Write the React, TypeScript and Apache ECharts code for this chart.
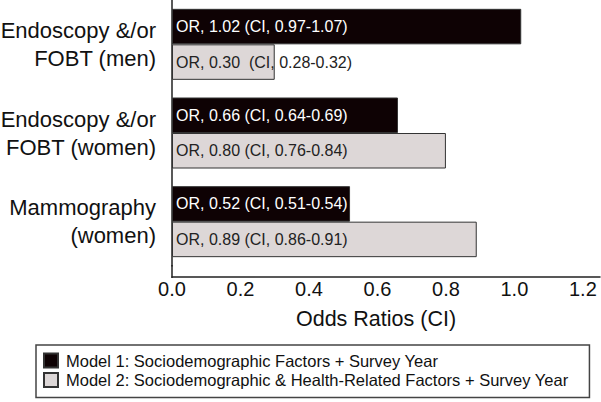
import React, { useEffect, useRef } from "react";
import * as echarts from "echarts";

const categories = ["Endoscopy &/or\nFOBT (men)", "Endoscopy &/or\nFOBT (women)", "Mammography\n(women)"];
const seriesNames = [
  "Model 1: Sociodemographic Factors + Survey Year",
  "Model 2: Sociodemographic & Health-Related Factors + Survey Year",
];
const model1Values = [1.02, 0.66, 0.52];
const model2Values = [0.3, 0.8, 0.89];
const model1Labels = ["OR, 1.02 (CI, 0.97-1.07)", "OR, 0.66 (CI, 0.64-0.69)", "OR, 0.52 (CI, 0.51-0.54)"];
const model2Labels = ["OR, 0.30  (CI, 0.28-0.32)", "OR, 0.80 (CI, 0.76-0.84)", "OR, 0.89 (CI, 0.86-0.91)"];
const xTicks = { min: 0, max: 1.25, interval: 0.2 };
const xTitle = "Odds Ratios (CI)";

const FONT = "'Liberation Sans', Arial, sans-serif";

export default function App() {
  const ref = useRef<HTMLDivElement>(null);
  useEffect(() => {
    if (!ref.current) return;
    const chart = echarts.init(ref.current, undefined, { renderer: "svg" });
    chart.setOption({
      animation: false,
      backgroundColor: "#ffffff",
      textStyle: { fontFamily: FONT },
      grid: { left: 172, right: 1, top: 0, bottom: 136, containLabel: false, outerBoundsMode: "none" },
      xAxis: {
        type: "value",
        min: xTicks.min,
        max: xTicks.max,
        interval: xTicks.interval,
        position: "bottom",
        offset: 11,
        axisLine: { show: true, lineStyle: { color: "#222", width: 1.5 } },
        axisTick: { show: false },
        splitLine: { show: false },
        axisLabel: {
          fontSize: 20,
          color: "#111",
          margin: 2,
          fontFamily: FONT,
          showMaxLabel: false,
          formatter: (v: number) => v.toFixed(1),
        },
        name: xTitle,
        nameLocation: "middle",
        nameGap: 31,
        nameTextStyle: { fontSize: 21.5, color: "#111", fontFamily: FONT, padding: [0, 20, 0, 0] },
      },
      yAxis: {
        type: "category",
        inverse: true,
        data: categories,
        axisLine: { show: true, lineStyle: { color: "#222", width: 1.5 } },
        axisTick: { show: false },
        axisLabel: { fontSize: 22, lineHeight: 28, color: "#111", margin: 16, fontFamily: FONT },
      },
      legend: {
        orient: "vertical",
        left: 36,
        top: 345,
        data: seriesNames,
        icon: "rect",
        itemWidth: 14,
        itemHeight: 14,
        itemGap: 2.5,
        padding: [7, 21, 9, 7],
        borderColor: "#444",
        borderWidth: 1.5,
        backgroundColor: "#fff",
        textStyle: { fontSize: 16.5, lineHeight: 17, color: "#111", fontFamily: FONT, padding: [0, 0, 0, 3] },
      },
      graphic: [
        {
          type: "line",
          shape: { x1: 172, y1: 265, x2: 172, y2: 278 },
          style: { stroke: "#222", lineWidth: 1.5 },
          silent: true,
        },
      ],
      series: [
        {
          name: seriesNames[0],
          type: "bar",
          data: model1Values,
          barWidth: 35.5,
          barGap: "0%",
          itemStyle: { color: "#0e0204", borderColor: "#333", borderWidth: 1 },
          label: {
            show: true,
            position: "insideLeft",
            distance: 4,
            fontSize: 16,
            color: "#fff",
            fontFamily: FONT,
            formatter: (p: any) => model1Labels[p.dataIndex],
          },
        },
        {
          name: seriesNames[1],
          type: "bar",
          data: model2Values,
          barWidth: 35.5,
          barGap: "0%",
          itemStyle: { color: "#ddd7d7", borderColor: "#333", borderWidth: 1 },
          label: {
            show: true,
            position: "insideLeft",
            distance: 4,
            fontSize: 16,
            color: "#222",
            fontFamily: FONT,
            formatter: (p: any) => model2Labels[p.dataIndex],
          },
        },
      ],
    });
    return () => chart.dispose();
  }, []);
  return (
    <div
      ref={ref}
      style={{ position: "fixed", left: 0, top: 0, width: 601, height: 402, background: "#fff" }}
    />
  );
}
